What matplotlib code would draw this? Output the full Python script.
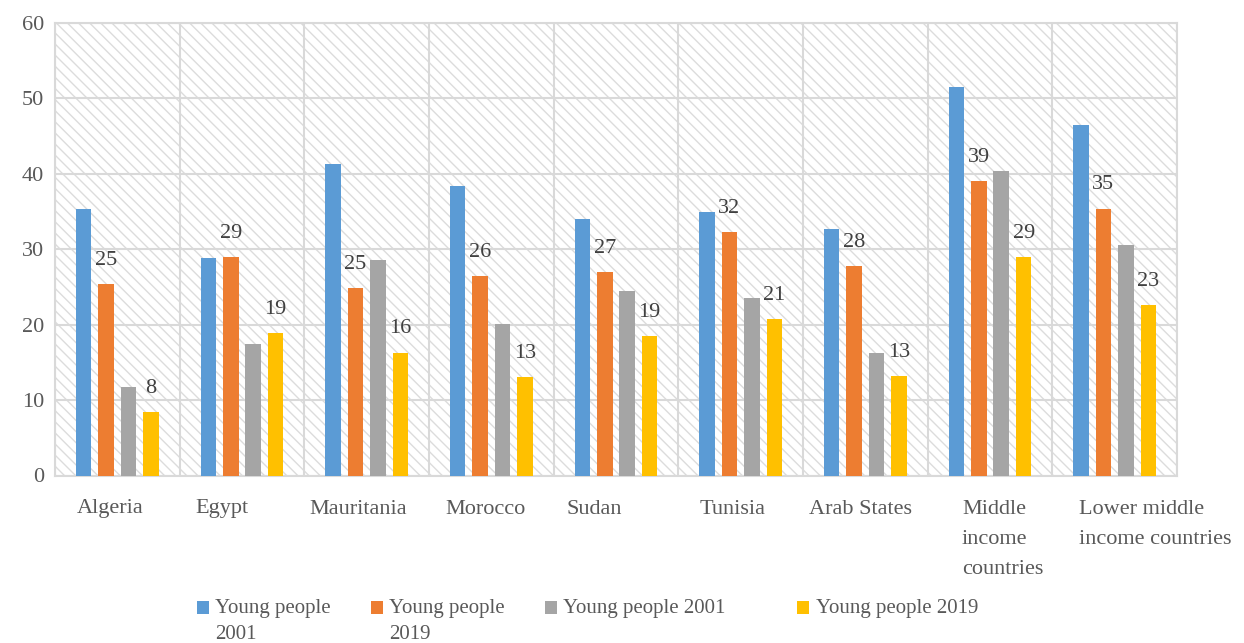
import matplotlib
matplotlib.use("Agg")
import matplotlib.pyplot as plt
import numpy as np
from matplotlib.transforms import blended_transform_factory, offset_copy
from matplotlib.patches import Rectangle
from matplotlib.container import BarContainer
from matplotlib.legend_handler import HandlerPatch, update_from_first_child

categories = ["Algeria", "Egypt", "Mauritania", "Morocco", "Sudan", "Tunisia",
              "Arab States", "Middle\nincome\ncountries", "Lower middle\nincome countries"]
series_names = ["Young people\n2001", "Young people\n2019", "Young people 2001      \n", "Young people 2019\n"]
s1_2001 = [35.3, 28.9, 41.3, 38.4, 34.0, 35.0, 32.7, 51.5, 46.5]
s1_2019 = [25.4, 29.0, 24.9, 26.4, 27.0, 32.3, 27.8, 39.1, 35.4]
s2_2001 = [11.8, 17.5, 28.6, 20.1, 24.4, 23.6, 16.3, 40.4, 30.6]
s2_2019 = [8.4, 18.9, 16.3, 13.1, 18.5, 20.7, 13.2, 29.0, 22.6]
series = [s1_2001, s1_2019, s2_2001, s2_2019]
labelled = [False, True, False, True]
colors = ["#5B9BD5", "#ED7D31", "#A5A5A5", "#FFC000"]
yticks = [0, 10, 20, 30, 40, 50, 60]
label_dx = [-7, -20, -8, -6, -22, -8, -5, -28, -36]

plt.rcParams['font.family'] = ['Liberation Serif', 'DejaVu Serif']
plt.rcParams['hatch.linewidth'] = 1.0

fig = plt.figure(figsize=(12.44, 6.43), dpi=100)
ax = fig.add_axes([55/1244, 1-475.5/643, (1177-55)/1244, (475.5-23)/643])

ax.patch.set_facecolor('white')
ax.patch.set_edgecolor('#dcdcdc')
ax.patch.set_hatch('\\\\\\')

x = np.arange(len(categories))
bw = 0.125
step = 0.18
for i, (vals, col, lab) in enumerate(zip(series, colors, series_names)):
    pos = x + (i - 1.5) * step
    bars = ax.bar(pos, vals, width=bw, color=col, label=lab, zorder=3)
    if labelled[i]:
        for b, v in zip(bars, vals):
            ax.annotate(f"{int(np.floor(v + 0.5)):d}", (b.get_x() + b.get_width()/2, b.get_height()),
                        xytext=(0, 17), textcoords='offset points', ha='center', va='center',
                        fontsize=16, color='#404040', zorder=4)

ax.set_xlim(-0.5, len(categories) - 0.5)
ax.set_ylim(0, 60)
ax.set_yticks(yticks)
ax.set_yticklabels([str(t) for t in yticks])
ax.set_xticks(x)
ax.set_xticklabels([])
ax.set_xticks(np.arange(len(categories) + 1) - 0.5, minor=True)
ax.tick_params(axis='x', which='both', length=0)
ax.tick_params(axis='y', length=0, labelsize=16, labelcolor='#595959', pad=8)
ax.grid(axis='y', which='major', color='#d9d9d9', linewidth=1.5, zorder=1)
ax.grid(axis='x', which='minor', color='#d9d9d9', linewidth=1.5, zorder=1)
ax.set_axisbelow(True)
for s in ax.spines.values():
    s.set_color('#d9d9d9')
    s.set_linewidth(1.5)

trans = blended_transform_factory(ax.transData, ax.transAxes)
for xi, cat, dx in zip(x, categories, label_dx):
    t = offset_copy(trans, fig=fig, x=dx, y=-24, units='dots')
    if '\n' in cat:
        ax.text(xi, 0, cat, transform=t, ha='left', va='top', fontsize=16,
                color='#595959', linespacing=1.8)
    else:
        ax.text(xi, 0, cat, transform=t, ha='center', va='top', fontsize=16,
                color='#595959')


def raised_patch(legend, orig_handle, xdescent, ydescent, width, height, fontsize):
    return Rectangle((-xdescent, -ydescent + 0.67 * fontsize), width, height)


leg = fig.legend(loc='upper left', bbox_to_anchor=(0.143, 0.097), ncol=4, frameon=False,
                 fontsize=15, handlelength=0.6, handleheight=0.6, handletextpad=0.3,
                 columnspacing=1.9, labelcolor='#595959',
                 handler_map={BarContainer: HandlerPatch(patch_func=raised_patch,
                                                         update_func=update_from_first_child)})
for t in leg.get_texts():
    t.set_linespacing(1.45)

fig.savefig("out.png", dpi=100)
